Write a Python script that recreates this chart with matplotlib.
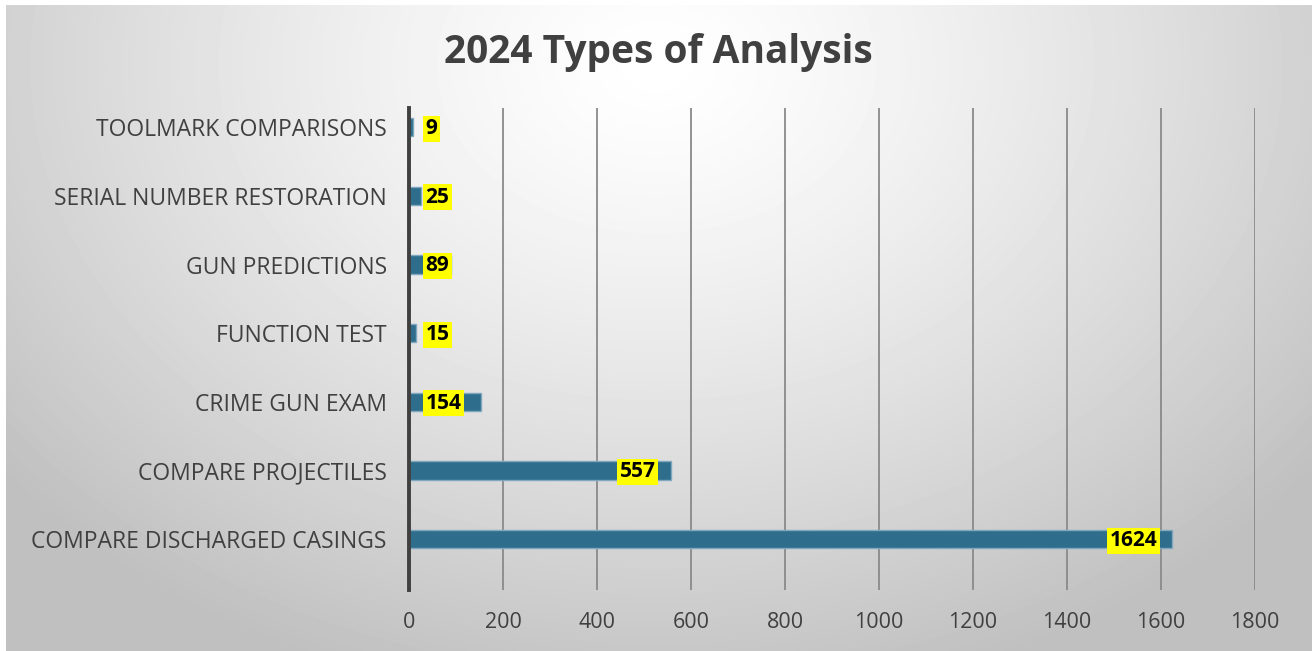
import numpy as np
import matplotlib
matplotlib.use("Agg")
import matplotlib.pyplot as plt

# data, bottom to top
categories = [
    "COMPARE DISCHARGED CASINGS",
    "COMPARE PROJECTILES",
    "CRIME GUN EXAM",
    "FUNCTION TEST",
    "GUN PREDICTIONS",
    "SERIAL NUMBER RESTORATION",
    "TOOLMARK COMPARISONS",
]
counts = [1624, 557, 154, 15, 89, 25, 9]
xticks = [0, 200, 400, 600, 800, 1000, 1200, 1400, 1600, 1800]
title = "2024 Types of Analysis"

plt.rcParams["font.family"] = ["Open Sans", "DejaVu Sans"]

W, H = 1312, 651
fig = plt.figure(figsize=(W / 100, H / 100), dpi=100)
fig.patch.set_facecolor("white")

# radial gradient background
bg = fig.add_axes([6 / W, 0, (W - 6) / W, (H - 5) / H])
yy, xx = np.mgrid[0:H - 5, 0:W - 6]
cx, cy = 650, 60
r = np.sqrt(((xx - cx) / 850) ** 2 + ((yy - cy) / 650) ** 2)
r = np.clip(r, 0, 1)
shade = 1.0 - 0.25 * r ** 1.3
bg.imshow(shade, cmap="gray", vmin=0, vmax=1, aspect="auto",
          extent=[0, 1, 0, 1], origin="upper")
bg.axis("off")

ax = fig.add_axes([409 / W, 61 / H, (1255 - 409) / W, (590 - 108) / H])
ax.set_facecolor("none")

y = np.arange(len(categories))
ax.barh(y, counts, height=0.27, color="#2E6D8C", edgecolor="#7FA7BE",
        linewidth=1.0, zorder=3)

ax.set_xlim(0, 1800)
ax.set_ylim(-0.74, 6.28)
ax.set_xticks(xticks)
ax.set_xticklabels([str(t) for t in xticks], fontsize=15.5, color="#404040")
ax.set_yticks(y)
ax.set_yticklabels(categories, fontsize=16.5, color="#404040")
ax.tick_params(axis="both", length=0)
ax.tick_params(axis="x", pad=16)
ax.tick_params(axis="y", pad=16)

ax.grid(axis="x", color="#8a8a8a", linewidth=1.3, zorder=1)
for s in ["top", "right", "bottom"]:
    ax.spines[s].set_visible(False)
ax.spines["left"].set_color("#404040")
ax.spines["left"].set_linewidth(2.8)
ax.spines["left"].set_zorder(4)

for yi, v in zip(y, counts):
    if v < 200:
        x, ha = 35, "left"
    else:
        x, ha = v - 32, "right"
    ax.text(x, yi - 0.02, str(v), ha=ha, va="center", fontsize=15,
            fontweight="bold", color="black", zorder=5,
            bbox=dict(boxstyle="square,pad=0.12", facecolor="#FFFF00",
                      edgecolor="none"))

fig.text(658 / W, 1 - 52 / H, title, ha="center", va="center",
         fontsize=28, fontweight="bold", color="#404040")

fig.savefig("out.png", dpi=100)
